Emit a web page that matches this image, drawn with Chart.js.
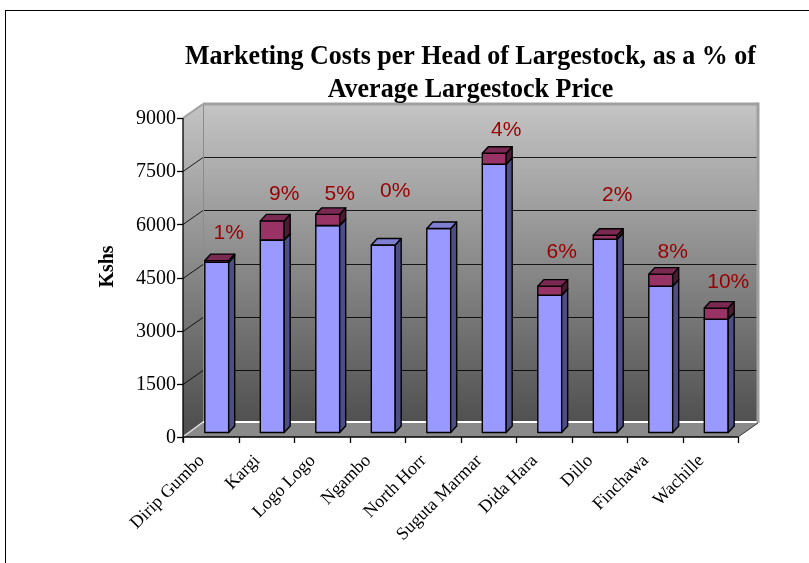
<!DOCTYPE html>
<html><head><meta charset="utf-8">
<script src="https://cdn.jsdelivr.net/npm/chart.js@4/dist/chart.umd.min.js"></script>
<style>html,body{margin:0;padding:0;background:#fff;overflow:hidden}canvas{display:block}</style>
</head><body>
<canvas id="c" width="809" height="563" style="width:809px;height:563px"></canvas>
<script>
const categories = ['Dirip Gumbo','Kargi','Logo Logo','Ngambo','North Horr','Suguta Marmar','Dida Hara','Dillo','Finchawa','Wachille'];
const priceKshs = [4800,5430,5840,5290,5755,7570,3875,5455,4130,3200];
const marketingKshs = [50,540,315,0,0,310,255,112,338,310];
const percentLabels = ['1%','9%','5%','0%','','4%','6%','2%','8%','10%'];
const labelAnchorKshs = [5750,6850,6850,6930,null,8650,5210,6820,5210,4370];
const yTicks = [0,1500,3000,4500,6000,7500,9000];
const titleLines = ['Marketing Costs per Head of Largestock, as a % of','Average Largestock Price'];
const yTitle = 'Kshs';

const DEPTH = {x:20, y:-14};
const BAR_SHIFT = {x:6, y:-4.5};
const BAR_DEPTH = {x:6, y:-6.5};
const SERIES_COLORS = [
  {front:'#9999ff', side:'#4e4e86', top:'#7f7fd2'},
  {front:'#993366', side:'#4d1a33', top:'#7a2952'}
];

function line(ctx,x1,y1,x2,y2){ctx.beginPath();ctx.moveTo(x1,y1);ctx.lineTo(x2,y2);ctx.stroke();}
function poly(ctx,pts){ctx.beginPath();ctx.moveTo(pts[0][0],pts[0][1]);for(let i=1;i<pts.length;i++)ctx.lineTo(pts[i][0],pts[i][1]);ctx.closePath();}

const scene = {
  id:'scene',
  beforeDraw(chart){
    const ctx = chart.ctx;
    ctx.save();
    ctx.fillStyle='#fff'; ctx.fillRect(0,0,chart.width,chart.height);
    ctx.strokeStyle='#000'; ctx.lineWidth=1;
    ctx.strokeRect(5.5,10.5,1000,1000);
    ctx.restore();
  },
  beforeDatasetsDraw(chart){
    const {ctx, chartArea:a, scales:{x,y}} = chart;
    const L=a.left, R=a.right, T=a.top, B=a.bottom, dx=DEPTH.x, dy=DEPTH.y;
    ctx.save();
    let g = ctx.createLinearGradient(0,T+dy,0,B+dy);
    g.addColorStop(0,'#c4c4c4'); g.addColorStop(1,'#505050');
    ctx.fillStyle=g;
    poly(ctx,[[L,T],[L+dx,T+dy],[L+dx,B+dy],[L,B]]); ctx.fill();
    ctx.fillRect(L+dx,T+dy,R-L,B-T);
    ctx.fillStyle='#8a8a8a';
    poly(ctx,[[L,B],[R,B],[R+dx,B+dy],[L+dx,B+dy]]); ctx.fill();
    ctx.lineWidth=1;
    yTicks.forEach(v=>{
      if(v===0||v===9000) return;
      const yy=Math.round(y.getPixelForValue(v))+0.5;
      ctx.strokeStyle='rgba(0,0,0,0.85)';
      line(ctx,L+dx,yy+dy,R+dx,yy+dy);
      line(ctx,L,yy,L+dx,yy+dy);
    });
    ctx.strokeStyle='#8c8c8c';
    line(ctx,L+dx+0.5,T+dy,L+dx+0.5,B+dy);
    ctx.strokeStyle='#ffffff'; ctx.lineWidth=2;
    line(ctx,L+dx,B+dy-1,R+dx,B+dy-1);
    ctx.strokeStyle='#e8e8e8'; ctx.lineWidth=1.2;
    line(ctx,L+1,B-1,L+dx,B+dy-1);
    ctx.strokeStyle='#a0a0a0'; ctx.lineWidth=3;
    line(ctx,L+dx,T+dy,R+dx,T+dy);
    line(ctx,R+dx,T+dy-1.5,R+dx,B+dy);
    ctx.lineWidth=2;
    line(ctx,L,T,L+dx,T+dy);
    ctx.strokeStyle='#333'; ctx.lineWidth=1;
    line(ctx,R,B,R+dx,B+dy);
    ctx.strokeStyle='#000'; ctx.lineWidth=1.3;
    line(ctx,L,T,L,B+5);
    line(ctx,L,B,R,B);
    const n=categories.length;
    for(let i=0;i<=n;i++){
      const xb=Math.round(x.getPixelForValue(i-0.5))+0.5;
      line(ctx,xb,B,xb,B+6);
    }
    yTicks.forEach(v=>{
      const yy=Math.round(y.getPixelForValue(v))+0.5;
      line(ctx,L-6,yy,L,yy);
    });
    ctx.fillStyle='#000';
    ctx.font='20px "Liberation Serif", "Times New Roman", serif';
    ctx.textAlign='right'; ctx.textBaseline='middle';
    yTicks.forEach(v=>{
      ctx.fillText(String(v), L-7, y.getPixelForValue(v)+1);
    });
    ctx.font='18px "Liberation Serif", "Times New Roman", serif';
    categories.forEach((c,i)=>{
      const cx=x.getPixelForValue(i);
      ctx.save();
      ctx.translate(cx-9,B+21);
      ctx.rotate(-Math.PI/4);
      ctx.textAlign='right'; ctx.textBaseline='middle';
      ctx.fillText(c,0,0);
      ctx.restore();
    });
    ctx.save();
    ctx.font='bold 20px "Liberation Serif", "Times New Roman", serif';
    ctx.translate(L-75,(T+B)/2-11);
    ctx.rotate(-Math.PI/2);
    ctx.textAlign='center'; ctx.textBaseline='middle';
    ctx.fillText(yTitle,0,0);
    ctx.restore();
    ctx.restore();
  },
  afterDatasetsDraw(chart){
    const {ctx, scales:{x,y}} = chart;
    ctx.save();
    ctx.lineJoin='round';
    const metas=[chart.getDatasetMeta(0),chart.getDatasetMeta(1)];
    const vals=[priceKshs,marketingKshs];
    categories.forEach((c,i)=>{
      metas.forEach((m,d)=>{
        if(!vals[d][i]) return;
        const el=m.data[i].getProps(['x','y','base','width'],true);
        const x0=el.x-el.width/2+BAR_SHIFT.x, x1=el.x+el.width/2+BAR_SHIFT.x;
        const yt=el.y+BAR_SHIFT.y, yb=el.base+BAR_SHIFT.y;
        const bx=BAR_DEPTH.x, by=BAR_DEPTH.y, col=SERIES_COLORS[d];
        ctx.strokeStyle='#000'; ctx.lineWidth=1.4;
        ctx.fillStyle=col.front; ctx.beginPath(); ctx.rect(x0,yt,x1-x0,yb-yt); ctx.fill(); ctx.stroke();
        ctx.fillStyle=col.side; poly(ctx,[[x1,yb],[x1+bx,yb+by],[x1+bx,yt+by],[x1,yt]]); ctx.fill(); ctx.stroke();
        ctx.fillStyle=col.top; poly(ctx,[[x0,yt],[x1,yt],[x1+bx,yt+by],[x0+bx,yt+by]]); ctx.fill(); ctx.stroke();
      });
    });
    ctx.fillStyle='#990000';
    ctx.font='21px "Liberation Sans", Arial, sans-serif';
    ctx.textAlign='center'; ctx.textBaseline='middle';
    percentLabels.forEach((t,i)=>{
      if(!t || labelAnchorKshs[i]==null) return;
      ctx.fillText(t, x.getPixelForValue(i)+18, y.getPixelForValue(labelAnchorKshs[i]));
    });
    ctx.restore();
  },
  afterDraw(chart){
    const {ctx, chartArea:a} = chart;
    ctx.save();
    ctx.fillStyle='#000';
    ctx.font='bold 27px "Liberation Serif", "Times New Roman", serif';
    ctx.textAlign='center'; ctx.textBaseline='alphabetic';
    const w=ctx.measureText(titleLines[0]).width;
    const sx=571/w;
    const cx=(a.left+a.right+DEPTH.x)/2;
    [64,97].forEach((by,k)=>{
      ctx.save(); ctx.translate(cx,by); ctx.scale(sx,1);
      ctx.fillText(titleLines[k],0,0); ctx.restore();
    });
    ctx.restore();
  }
};

new Chart(document.getElementById('c'),{
  type:'bar',
  data:{labels:categories,datasets:[
    {label:'Price',data:priceKshs,backgroundColor:'rgba(0,0,0,0)',borderWidth:0},
    {label:'Marketing cost',data:marketingKshs,backgroundColor:'rgba(0,0,0,0)',borderWidth:0}
  ]},
  options:{
    responsive:false, animation:false, devicePixelRatio:1,
    layout:{padding:{left:183,top:118,right:71,bottom:126}},
    plugins:{legend:{display:false},tooltip:{enabled:false},title:{display:false}},
    scales:{
      x:{display:false,stacked:true,offset:true},
      y:{display:false,stacked:true,min:0,max:9000,ticks:{stepSize:1500}}
    },
    datasets:{bar:{categoryPercentage:1,barPercentage:0.43}}
  },
  plugins:[scene]
});
</script>
</body></html>
